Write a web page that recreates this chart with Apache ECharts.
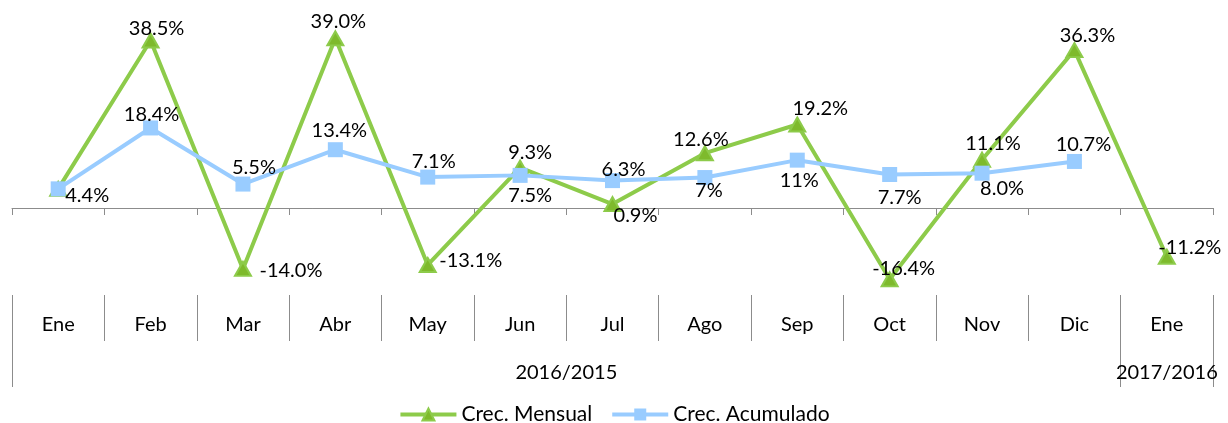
<!DOCTYPE html>
<html>
<head>
<meta charset="utf-8">
<script src="https://cdn.jsdelivr.net/npm/echarts@6/dist/echarts.min.js"></script>
<style>
  html, body { margin: 0; padding: 0; background: #fff; }
  #chart { width: 1228px; height: 423px; }
</style>
</head>
<body>
<div id="chart"></div>
<script>
// data
const months = ['Ene', 'Feb', 'Mar', 'Abr', 'May', 'Jun', 'Jul', 'Ago', 'Sep', 'Oct', 'Nov', 'Dic', 'Ene']
const groupLabels = ['2016/2015', '2017/2016']
const groupSpans = [12, 1]
const mensual = [4.4, 38.5, -14.0, 39.0, -13.1, 9.3, 0.9, 12.6, 19.2, -16.4, 11.1, 36.3, -11.2]
const acumulado = [4.4, 18.4, 5.5, 13.4, 7.1, 7.5, 6.3, 7, 11, 7.7, 8.0, 10.7, null]
const acumuladoDecimals = [1, 1, 1, 1, 1, 1, 1, 0, 0, 1, 1, 1, 1]

// label placement (offset from the marker centre), like the excel original
const mensualShift = [null, [6, -12], [48, 2], [3, -17], [43, -4], [10, -15], [23, 11],
    [-4, -14], [23, -16], [14, -11], [11, -16], [13, -15], [23, -9]]
const acumuladoShift = [[29, 7], [1, -13], [11, -17], [4, -19], [6, -16], [10, 20], [11, -11],
    [4, 13], [2, 20], [10, 23], [20, 15], [9, -17], null]

const font = 'Lato'
const gray = '#8c8c8c'
const green = '#8DCB4A'
const blue = '#99CCFF'

// boundaries and centres of the year groups
let groupTicks = [0]
let groupCenters = []
let acc = 0
groupSpans.forEach(function (s) {
    groupCenters.push(acc + s / 2)
    acc += s
    groupTicks.push(acc)
})

function buildData(values, shifts) {
    return values.map(function (v, i) {
        if (v === null) return '-'
        let item = {value: v}
        if (shifts[i]) {
            item.label = {show: true, position: 'inside', offset: shifts[i]}
        } else {
            item.label = {show: false}
        }
        return item
    })
}

let option = {
    animation: false,
    textStyle: {fontFamily: font},
    grid: {left: 12, right: 15, top: 34, bottom: 128},
    legend: {
        top: 399,
        left: 'center',
        itemWidth: 56,
        itemHeight: 15,
        itemGap: 18,
        lineStyle: {width: 4},
        textStyle: {fontFamily: font, fontSize: 21, color: '#000'},
        data: ['Crec. Mensual', 'Crec. Acumulado']
    },
    xAxis: [
        {
            type: 'category',
            data: months,
            position: 'bottom',
            axisLine: {onZero: true, lineStyle: {color: gray, width: 1}},
            axisTick: {show: true, length: 7, lineStyle: {color: gray}},
            axisLabel: {show: false},
            splitLine: {show: false}
        },
        {
            type: 'category',
            data: months,
            position: 'bottom',
            axisLine: {show: false, onZero: false},
            axisTick: {show: true, length: 46, interval: 0, lineStyle: {color: gray}},
            axisLabel: {interval: 0, margin: 20, fontSize: 20, color: '#000', fontFamily: font},
            splitLine: {show: false}
        },
        {
            type: 'value',
            min: 0,
            max: months.length,
            position: 'bottom',
            axisLine: {show: false, onZero: false},
            axisTick: {show: true, length: 92, customValues: groupTicks, lineStyle: {color: gray}},
            axisLabel: {
                customValues: groupCenters,
                margin: 68,
                fontSize: 20,
                color: '#000',
                fontFamily: font,
                formatter: function (v) {
                    return groupLabels[groupCenters.indexOf(v)]
                }
            },
            splitLine: {show: false}
        }
    ],
    yAxis: {
        type: 'value',
        min: -20,
        max: 40,
        show: false
    },
    series: [
        {
            name: 'Crec. Mensual',
            type: 'line',
            xAxisIndex: 0,
            data: buildData(mensual, mensualShift),
            symbol: 'triangle',
            symbolSize: [16, 14],
            lineStyle: {color: green, width: 4},
            itemStyle: {color: '#7EBA2C', borderColor: green, borderWidth: 2},
            label: {
                fontSize: 20,
                color: '#000',
                fontFamily: font,
                formatter: function (p) { return p.value.toFixed(1) + '%' }
            },
            z: 3
        },
        {
            name: 'Crec. Acumulado',
            type: 'line',
            xAxisIndex: 0,
            data: buildData(acumulado, acumuladoShift),
            symbol: 'rect',
            symbolSize: 15,
            lineStyle: {color: blue, width: 4},
            itemStyle: {color: blue},
            label: {
                fontSize: 20,
                color: '#000',
                fontFamily: font,
                formatter: function (p) {
                    return p.value.toFixed(acumuladoDecimals[p.dataIndex]) + '%'
                }
            },
            z: 4
        }
    ]
}

let mychart = echarts.init(document.getElementById('chart'))
mychart.setOption(option)
</script>
</body>
</html>
